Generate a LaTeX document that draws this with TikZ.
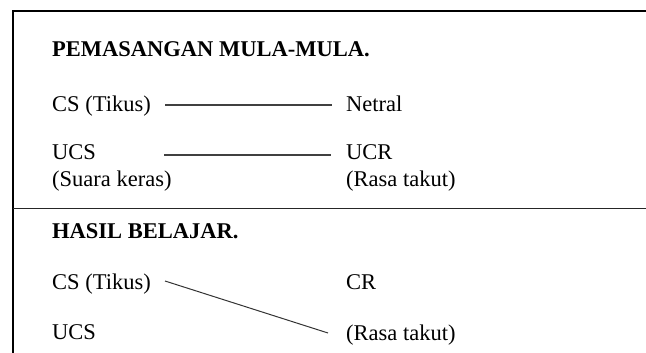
\documentclass[tikz,border=0pt]{standalone}
\usepackage{fontspec}
\setmainfont{Liberation Serif}
\begin{document}
\begin{tikzpicture}[x=1pt,y=-1pt,
  txt/.style={anchor=base west, inner sep=0pt, font=\fontsize{22.5}{27}\selectfont},
  ttl/.style={anchor=base west, inner sep=0pt, font=\fontsize{22.5}{27}\selectfont\bfseries},
  frame/.style={line width=2pt, draw=black},
  divider/.style={line width=1.2pt, draw=black!85},
  conn/.style={line width=1.3pt, draw=black!75},
  diag/.style={line width=1pt, draw=black!80}]
\useasboundingbox (0,0) rectangle (646,353);
% frame
\draw[frame] (12.5,353) -- (12.5,11) -- (646,11);
\draw[divider] (12.5,208.5) -- (646,208.5);
% upper part
\node[ttl] (t1) at (52,57) {PEMASANGAN MULA-MULA.};
\node[txt] (cs1) at (52,111) {CS (Tikus)};
\node[txt] (netral) at (346,111) {Netral};
\node[txt] (ucs1) at (52,160) {UCS};
\node[txt] (ucr) at (346,160) {UCR};
\node[txt] (suara) at (52,186) {(Suara keras)};
\node[txt] (rasa1) at (346,186) {(Rasa takut)};
\coordinate (a1) at (165,105);
\coordinate (b1) at (332,105);
\coordinate (a2) at (164,155);
\coordinate (b2) at (331,155);
\draw[conn] (a1) -- (b1);
\draw[conn] (a2) -- (b2);
% lower part
\node[ttl] (t2) at (52,238) {HASIL BELAJAR.};
\node[txt] (cs2) at (52,289) {CS (Tikus)};
\node[txt] (cr) at (346,289) {CR};
\node[txt] (ucs2) at (52,339) {UCS};
\node[txt] (rasa2) at (346,340) {(Rasa takut)};
\coordinate (a3) at (165,281);
\coordinate (b3) at (328,333);
\draw[diag] (a3) -- (b3);
\end{tikzpicture}
\end{document}
